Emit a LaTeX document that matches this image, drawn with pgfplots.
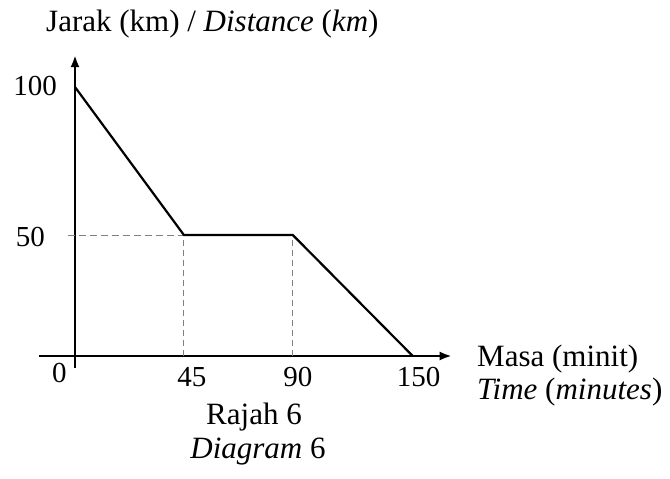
\documentclass[border=0pt]{standalone}
\usepackage{pgfplots}
\pgfplotsset{compat=1.18}
\usepackage{fontspec}
\setmainfont{Liberation Serif}
\usetikzlibrary{arrows.meta}

\newcommand\lab{\fontsize{31}{37}\selectfont}
\newcommand\tk{\fontsize{29}{34}\selectfont}

\begin{document}
\begin{tikzpicture}[x=1pt,y=1pt]
\useasboundingbox (0,0) rectangle (670,-479);
\begin{axis}[
  at={(75pt,-356pt)}, anchor=origin,
  x=2.42pt, y=2.42pt,
  axis lines=middle,
  % the sketch is not drawn to scale: stretch 50-100 km, squeeze 90-150 min
  x coord trafo/.code={\pgfmathparse{(#1)<=90 ? (#1) : 90+((#1)-90)*0.826}},
  y coord trafo/.code={\pgfmathparse{(#1)<=50 ? (#1) : 50+((#1)-50)*1.223}},
  xmin=-15, xmax=169.5, ymin=-5, ymax=110.8,
  xtick=\empty, ytick=\empty,
  axis line style={line width=2.4pt, -{Latex[length=12pt,width=9pt]}},
  clip=false,
]
% guide lines
\addplot[gray, dashed, line width=1pt, dash pattern=on 7pt off 4pt] coordinates {(-3,50) (45,50)};
\addplot[gray, dashed, line width=1pt, dash pattern=on 6pt off 4pt] coordinates {(45,0) (45,50)};
\addplot[gray, dashed, line width=1pt, dash pattern=on 6pt off 4pt] coordinates {(90,0) (90,50)};
% journey
\addplot[black, line width=2.2pt, mark=none] coordinates {(0,100) (45,50) (90,50) (150,0)};

% tick labels
\node[font=\tk, anchor=east, inner sep=0, xshift=-18pt, yshift=1pt] at (axis cs:0,100) {100};
\node[font=\tk, anchor=east, inner sep=0, xshift=-30pt, yshift=-2pt] at (axis cs:0,50) {50};
\node[font=\tk, inner sep=0, xshift=-15.5pt, yshift=-17pt] at (axis cs:0,0) {0};
\node[font=\tk, inner sep=0, xshift=8pt, yshift=-21pt] at (axis cs:45,0) {45};
\node[font=\tk, inner sep=0, xshift=5pt, yshift=-21pt] at (axis cs:90,0) {90};
\node[font=\tk, inner sep=0, xshift=6pt, yshift=-21pt] at (axis cs:150,0) {150};
\end{axis}

\node[font=\lab, anchor=base west, inner sep=0] at (46,-31) {Jarak (km) / \textit{Distance} (\textit{km})};
\node[font=\lab, anchor=base west, inner sep=0] at (477,-366) {Masa (minit)};
\node[font=\lab, anchor=base west, inner sep=0] at (477,-399) {\textit{Time} (\textit{minutes})};
\node[font=\lab, anchor=base, inner sep=0] at (254,-424) {Rajah 6};
\node[font=\lab, anchor=base, inner sep=0] at (258,-458) {\textit{Diagram} 6};
\end{tikzpicture}
\end{document}
